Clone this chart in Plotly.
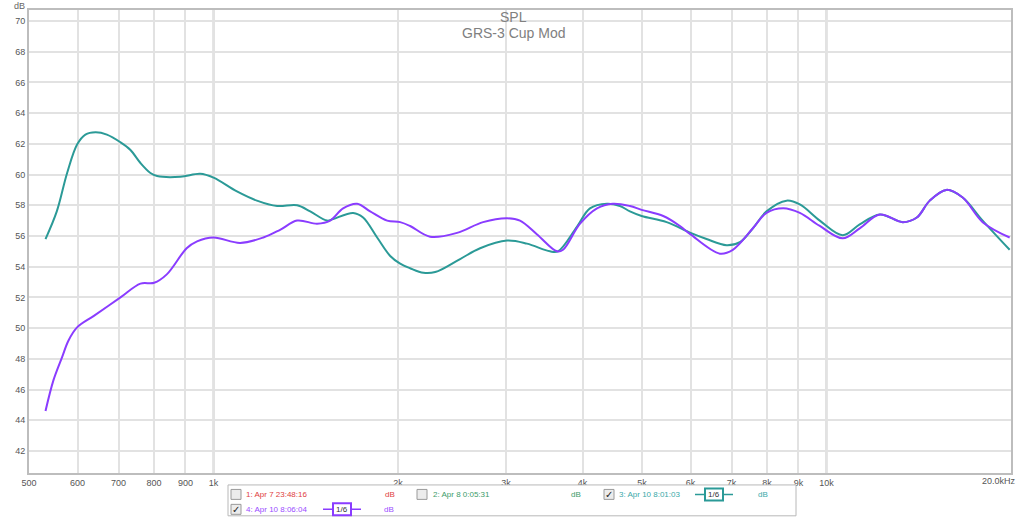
import plotly.graph_objects as go
import math

# ---- data ----
teal_freq = [532, 555, 577, 599, 618, 642, 670, 705, 732, 760, 789, 809, 883, 951, 1000,
             1092, 1177, 1270, 1369, 1438, 1532, 1567, 1690, 1754, 1849, 1942, 2016, 2093,
             2200, 2300, 2525, 2722, 3012, 3246, 3539, 3647, 3916, 4113, 4384, 4603, 4779,
             4994, 5486, 6002, 6373, 6871, 7223, 7584, 7984, 8607, 9048, 9752, 10630, 11330,
             12220, 13320, 14040, 14740, 15690, 16680, 17980, 19900]
teal_db = [55.8, 57.6, 60.1, 61.95, 62.6, 62.75, 62.6, 62.1, 61.6, 60.75, 60.1, 59.9, 59.85, 60.05, 59.8,
           58.9, 58.3, 57.95, 58.0, 57.6, 57.0, 57.1, 57.5, 57.2, 55.9, 54.7, 54.2, 53.9,
           53.6, 53.65, 54.5, 55.2, 55.7, 55.5, 55.0, 55.0, 56.6, 57.8, 58.1, 57.95, 57.6,
           57.3, 56.9, 56.2, 55.8, 55.4, 55.6, 56.5, 57.6, 58.3, 58.05, 57.0, 56.05, 56.75,
           57.4, 56.9, 57.2, 58.3, 59.0, 58.5, 57.0, 55.1]

purple_freq = [532, 548, 566, 580, 599, 638, 705, 760, 800, 839, 904, 940, 1000, 1105, 1206,
               1284, 1369, 1476, 1550, 1627, 1715, 1801, 1920, 2016, 2093, 2256, 2496, 2753,
               3012, 3162, 3372, 3634, 3717, 3962, 4223, 4482, 4779, 4994, 5416, 5766, 6002,
               6699, 7034, 7584, 7984, 8499, 9048, 9752, 10630, 11330, 12220, 13320, 14040,
               14740, 15690, 16680, 17980, 19900]
purple_db = [44.6, 46.6, 48.1, 49.2, 50.05, 50.8, 52.0, 52.9, 52.95, 53.5, 55.2, 55.65, 55.9, 55.55, 55.9,
             56.4, 57.0, 56.8, 57.0, 57.8, 58.1, 57.6, 57.0, 56.9, 56.65, 55.95, 56.2, 56.9,
             57.15, 57.0, 56.1, 55.0, 55.1, 56.8, 57.8, 58.1, 57.95, 57.7, 57.3, 56.65, 56.1,
             54.85, 55.1, 56.5, 57.5, 57.8, 57.5, 56.65, 55.85, 56.5, 57.4, 56.9, 57.2,
             58.3, 59.0, 58.5, 56.9, 55.9]

x_tickvals = [500, 600, 700, 800, 900, 1000, 2000, 3000, 4000, 5000, 6000, 7000, 8000, 9000, 10000, 20000]
x_ticktext = ["500", "600", "700", "800", "900", "1k", "2k", "3k", "4k", "5k", "6k", "7k", "8k", "9k", "10k", "20.0kHz"]
y_tickvals = list(range(42, 71, 2))

legend_labels = ["1: Apr 7 23:48:16", "2: Apr 8 0:05:31", "3: Apr 10 8:01:03", "4: Apr 10 8:06:04"]
legend_checked = [False, False, True, True]

TEAL = "#2b9a97"
PURPLE = "#8a3cff"
legend_colors = ["#e04040", "#3c9c6a", "#3aa9a9", "#9b4dff"]

W, H = 1024, 518
ML, MR, MT, MB = 29, 13, 8, 45
PW, PH = W - ML - MR, H - MT - MB


def px(x):
    return (x - ML) / PW


def py(y):
    return (H - MB - y) / PH


fig = go.Figure()
fig.add_trace(go.Scatter(x=teal_freq, y=teal_db, mode="lines",
                         line=dict(color=TEAL, width=2, shape="spline", smoothing=1.0),
                         showlegend=False, hoverinfo="skip"))
fig.add_trace(go.Scatter(x=purple_freq, y=purple_db, mode="lines",
                         line=dict(color=PURPLE, width=2, shape="spline", smoothing=1.0),
                         showlegend=False, hoverinfo="skip"))

shapes = []
for f in (1000, 10000):
    shapes.append(dict(type="line", xref="x", yref="paper", x0=f, x1=f, y0=0, y1=1,
                       line=dict(color="#c9c9c9", width=2), layer="below"))

FONT = "Liberation Sans, Arial"
annotations = []
annotations.append(dict(text="SPL", xref="paper", x=px(513), yref="paper", y=py(15), showarrow=False,
                        font=dict(size=14, color="#808080", family=FONT), yanchor="middle"))
annotations.append(dict(text="GRS-3 Cup Mod", xref="paper", x=px(513), yref="paper", y=py(31), showarrow=False,
                        font=dict(size=14, color="#808080", family=FONT), yanchor="middle"))
annotations.append(dict(text="dB", xref="paper", x=px(12), yref="paper", y=py(4), showarrow=False,
                        font=dict(size=9, color="#666", family=FONT), yanchor="middle"))
# label at the right end of the frequency axis
annotations.append(dict(text=x_ticktext[-1], xref="paper", x=px(1018), yref="paper", y=py(481),
                        showarrow=False, xanchor="right", yanchor="middle",
                        font=dict(size=9, color="#555", family=FONT)))

# legend panel
shapes.append(dict(type="rect", xref="paper", yref="paper", x0=px(228), x1=px(796), y0=py(516), y1=py(485),
                   line=dict(color="#b8b8b8", width=1), fillcolor="white", layer="above"))

rows = [(494.5, [(236, 0, 244, 390), (422, 1, 431, 576), (609, 2, 617, 763)]),
        (509.5, [(236, 3, 244, 389)])]
box16 = {2: 714, 3: 342}
for yrow, items in rows:
    for cbx, idx, tx, dbx in items:
        shapes.append(dict(type="rect", xref="paper", yref="paper",
                           x0=px(cbx - 5), x1=px(cbx + 5), y0=py(yrow + 5), y1=py(yrow - 5),
                           line=dict(color="#9a9a9a", width=1), fillcolor="#ececec", layer="above"))
        if legend_checked[idx]:
            annotations.append(dict(text="✓", xref="paper", yref="paper", x=px(cbx), y=py(yrow),
                                    showarrow=False, font=dict(size=10, color="#222", family="DejaVu Sans"),
                                    xanchor="center", yanchor="middle"))
        annotations.append(dict(text=legend_labels[idx], xref="paper", yref="paper", x=px(tx), y=py(yrow),
                                showarrow=False, xanchor="left", yanchor="middle",
                                font=dict(size=8, color=legend_colors[idx], family=FONT)))
        annotations.append(dict(text="dB", xref="paper", yref="paper", x=px(dbx), y=py(yrow),
                                showarrow=False, xanchor="center", yanchor="middle",
                                font=dict(size=8, color=legend_colors[idx], family=FONT)))
        if idx in box16:
            cx = box16[idx]
            col = TEAL if idx == 2 else PURPLE
            shapes.append(dict(type="line", xref="paper", yref="paper", x0=px(cx - 19), x1=px(cx + 19),
                               y0=py(yrow), y1=py(yrow), line=dict(color=col, width=1.5), layer="above"))
            shapes.append(dict(type="rect", xref="paper", yref="paper", x0=px(cx - 9), x1=px(cx + 9),
                               y0=py(yrow + 6), y1=py(yrow - 6), line=dict(color=col, width=2),
                               fillcolor="white", layer="above"))
            annotations.append(dict(text="1/6", xref="paper", yref="paper", x=px(cx), y=py(yrow),
                                    showarrow=False, xanchor="center", yanchor="middle",
                                    font=dict(size=8, color="#333", family=FONT)))

fig.update_layout(
    width=W, height=H,
    margin=dict(l=ML, r=MR, t=MT, b=MB, pad=0),
    paper_bgcolor="white", plot_bgcolor="white",
    shapes=shapes, annotations=annotations,
    font=dict(family=FONT, size=9, color="#555"),
)
fig.update_xaxes(type="log", range=[math.log10(500), math.log10(20000)],
                 tickvals=x_tickvals[:-1], ticktext=x_ticktext[:-1], ticks="",
                 showgrid=True, gridcolor="#e2e2e2", gridwidth=1.5,
                 showline=True, linecolor="#bdbdbd", linewidth=2, mirror=True,
                 tickfont=dict(size=9, color="#555"), zeroline=False)
fig.update_yaxes(range=[40.57, 70.71], tickvals=y_tickvals, ticks="",
                 showgrid=True, gridcolor="#e2e2e2", gridwidth=1.5,
                 showline=True, linecolor="#bdbdbd", linewidth=2, mirror=True,
                 tickfont=dict(size=9, color="#555"), zeroline=False)

fig.write_html("out.html", config={"displayModeBar": False},
               post_script="document.body.style.margin='0';document.body.style.overflow='hidden';")
